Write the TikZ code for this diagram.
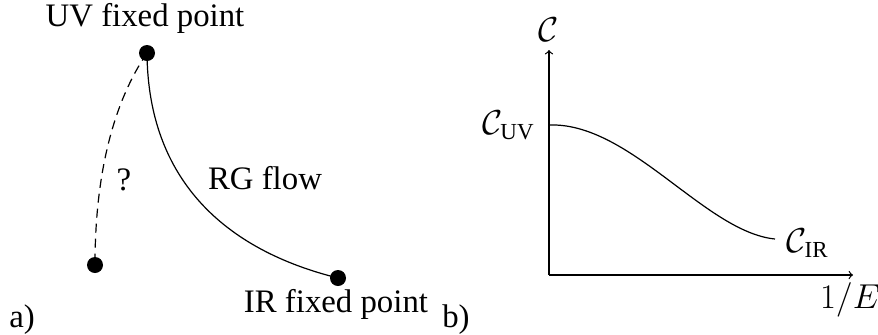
\documentclass[tikz,border=0pt]{standalone}
\usepackage{amsmath}
\usepackage[no-math]{fontspec}
\setmainfont{Liberation Serif}
\begin{document}
\begin{tikzpicture}[x=0.5pt,y=-0.5pt,
  lbl/.style={inner sep=0pt,font=\fontsize{16.4}{19}\selectfont},
  dotnode/.style={circle,fill=black,inner sep=0pt,minimum size=8pt},
  curve/.style={line width=0.6pt},
  axis/.style={line width=0.6pt,->}]
\useasboundingbox (0,0) rectangle (878,334);
% left panel
\node[dotnode] (uv) at (147,53) {};
\node[dotnode] (ir) at (338,278) {};
\node[dotnode] (other) at (95,265) {};
\node[lbl] (uvl) at (145,18) {UV fixed point};
\node[lbl] (irl) at (336,304) {IR fixed point};
\node[lbl] (rg) at (265,178) {RG flow};
\node[lbl] (q) at (124,180) {?};
\draw[curve] (uv.center) .. controls (148,180) and (225,250) .. (ir.center);
\draw[curve,dashed,dash pattern=on 4.5pt off 3pt] (uv.center) .. controls (115,100) and (95,170) .. (other.center);
\node[lbl] (a) at (22,320) {a)};
\node[lbl] (b) at (456,320) {b)};
% right panel
\coordinate (o) at (549,275);
\coordinate (ytop) at (549,50);
\coordinate (xend) at (853,275);
\draw[axis] (o) -- (ytop);
\draw[axis] (o) -- (xend);
\node[lbl] (cl) at (549,30) {$\mathcal{C}$};
\coordinate (cs) at (549,125);
\coordinate (ce) at (775,239);
\draw[curve] (cs) .. controls (630,122) and (705,232) .. (ce);
\node[lbl,anchor=east] (cuv) at (535,125) {$\mathcal{C}_{\text{UV}}$};
\node[lbl,anchor=west] (cir) at (786,243) {$\mathcal{C}_{\text{IR}}$};
\node[lbl] (ex) at (850,300) {$1/E$};
\end{tikzpicture}
\end{document}
